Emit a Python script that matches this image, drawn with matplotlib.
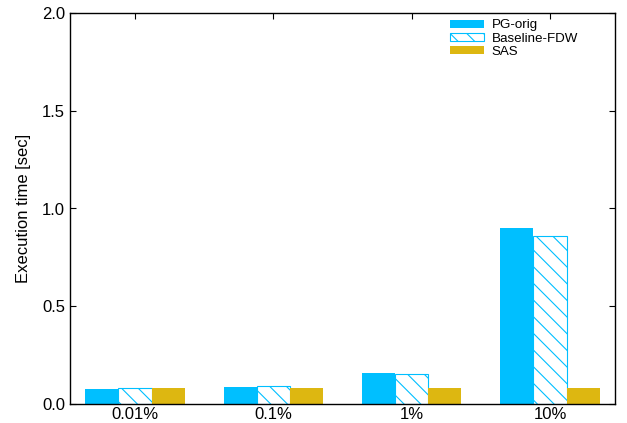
import numpy as np
import matplotlib
matplotlib.use("Agg")
import matplotlib.pyplot as plt

plt.rcParams['font.family'] = ['Liberation Sans', 'DejaVu Sans']
plt.rcParams['hatch.linewidth'] = 0.8
plt.rcParams['hatch.color'] = '#00BFFF'

categories = ['0.01%', '0.1%', '1%', '10%']
pg_orig = [0.077, 0.087, 0.159, 0.90]
baseline_fdw = [0.080, 0.092, 0.153, 0.86]
sas = [0.083, 0.083, 0.082, 0.082]

cyan = '#00BFFF'
gold = '#DDB711'

fig = plt.figure(figsize=(6.27, 4.23), dpi=100)
ax = fig.add_axes([70 / 627, 1 - 404 / 423, 545 / 627, 391 / 423])

x = np.arange(len(categories))
w = 0.24
ax.bar(x - w, pg_orig, w, color=cyan, label='PG-orig')
ax.bar(x, baseline_fdw, w, facecolor='white', edgecolor=cyan, hatch='\\\\',
       linewidth=0.8, label='Baseline-FDW')
ax.bar(x + w, sas, w, color=gold, label='SAS')

ax.set_xlim(-0.47, 3.47)
ax.set_ylim(0, 2.0)
ax.set_xticks(x)
ax.set_xticklabels(categories, fontsize=12)
ax.set_yticks([0, 0.5, 1.0, 1.5, 2.0])
ax.set_yticklabels(['0.0', '0.5', '1.0', '1.5', '2.0'], fontsize=12)
ax.tick_params(direction='in', top=True, right=True, length=4, width=0.8)
ax.tick_params(axis='x', bottom=False, pad=2)
ax.set_ylabel('Execution time [sec]', fontsize=12, labelpad=8)

for s in ax.spines.values():
    s.set_linewidth(1.0)

ax.legend(loc='upper right', bbox_to_anchor=(0.932, 0.984), frameon=False,
          fontsize=9.6, handlelength=2.6, handleheight=0.55,
          labelspacing=0.1, handletextpad=0.55, borderpad=0, borderaxespad=0)

fig.savefig('out.png', dpi=100)
